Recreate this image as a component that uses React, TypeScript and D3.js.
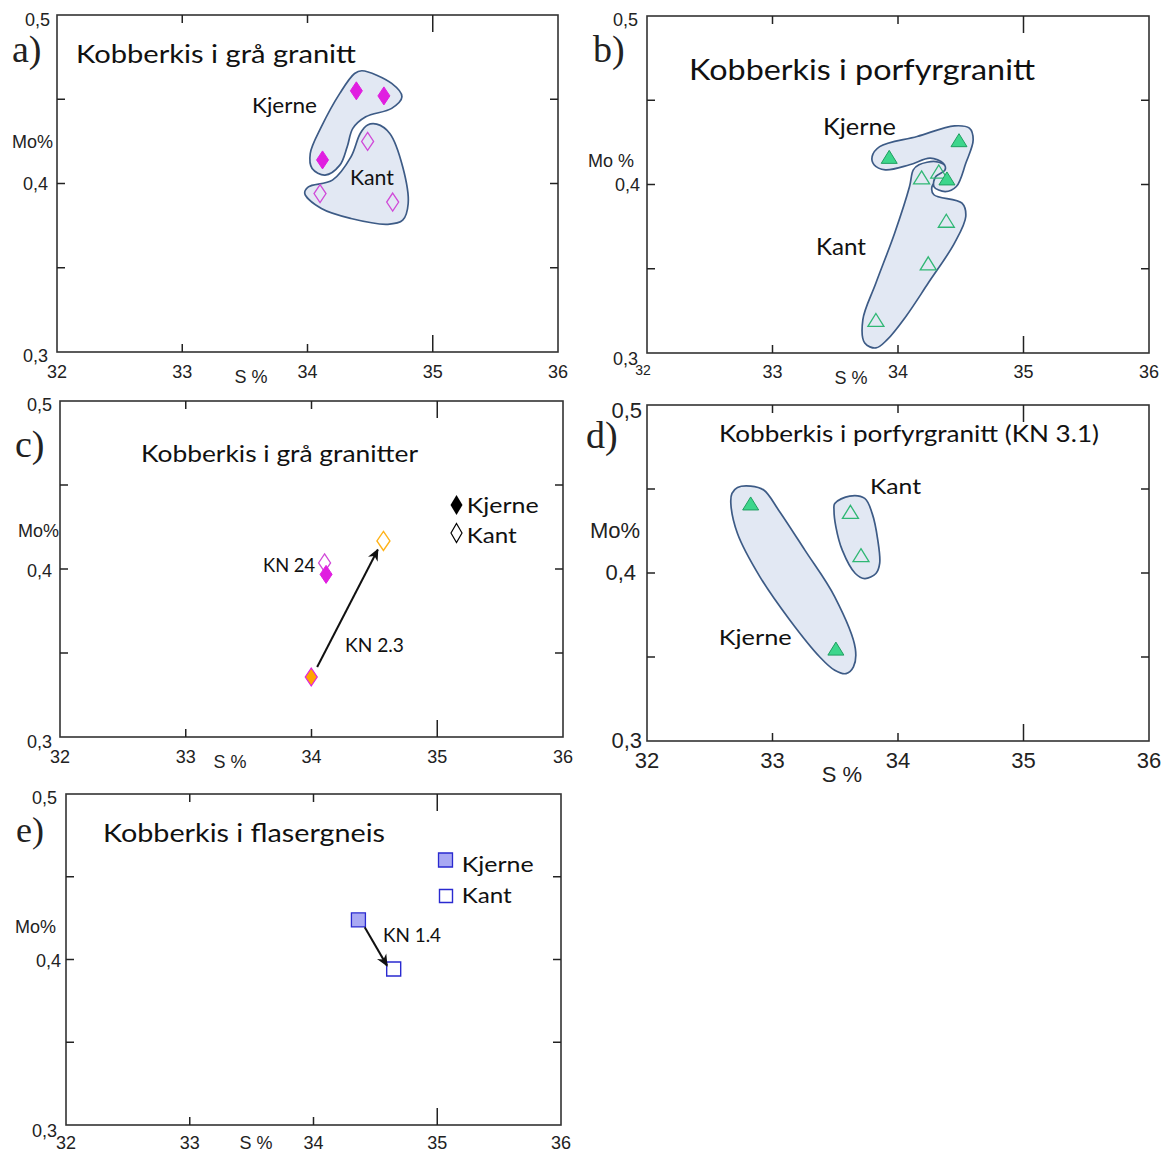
import React from 'react';
import * as d3 from 'd3';

type P = [number, number];

// ---------- shared axes ----------
const sDomain: P = [32, 36];
const moDomain: P = [0.3, 0.5];
const sTicks = [32, 33, 34, 35, 36];
const moTicks = [0.3, 0.4, 0.5];
const moTickLabels = ['0,3', '0,4', '0,5'];
const moMinorTicks = [0.35, 0.4, 0.45];
const innerSTicks = [33, 34, 35];

// ---------- panel a: grå granitt ----------
const aKjerne: P[] = [[34.39, 0.455], [34.61, 0.452], [34.12, 0.414]];
const aKant: P[] = [[34.48, 0.425], [34.10, 0.394], [34.68, 0.389]];
const aKjerneHull: P[] = [
  [34.435, 0.4669], [34.672, 0.4594], [34.754, 0.4515], [34.672, 0.4446], [34.465, 0.4396],
  [34.362, 0.4327], [34.317, 0.4218], [34.258, 0.4109], [34.14, 0.405], [34.037, 0.4089],
  [34.022, 0.4178], [34.111, 0.4337], [34.258, 0.4535], [34.376, 0.4653],
];
const aKantHull: P[] = [
  [34.553, 0.4352], [34.657, 0.4297], [34.76, 0.4099], [34.804, 0.3881], [34.76, 0.3782],
  [34.642, 0.3758], [34.347, 0.3792], [34.111, 0.3851], [33.978, 0.3941], [34.007, 0.398],
  [34.199, 0.402], [34.347, 0.4158], [34.421, 0.4297], [34.48, 0.4347],
];

// ---------- panel b: porfyrgranitt ----------
const bKjerne: P[] = [[33.93, 0.4164], [34.486, 0.4263], [34.39, 0.4036]];
const bKant: P[] = [[34.188, 0.4042], [34.325, 0.4077], [34.385, 0.3785], [34.241, 0.3532], [33.824, 0.3196]];
const bKjerneHull: P[] = [
  [33.794, 0.4166], [33.854, 0.4225], [34.152, 0.4285], [34.45, 0.4348], [34.569, 0.4334],
  [34.599, 0.4265], [34.54, 0.4126], [34.465, 0.3988], [34.376, 0.3958], [34.286, 0.3988],
  [34.301, 0.4047], [34.376, 0.4087], [34.361, 0.4126], [34.256, 0.4156], [34.092, 0.4117],
  [33.899, 0.4087], [33.809, 0.4117],
];
const bKantHull: P[] = [
  [34.167, 0.4117], [34.301, 0.4136], [34.384, 0.4107], [34.361, 0.4067], [34.271, 0.3988],
  [34.286, 0.3939], [34.51, 0.3889], [34.54, 0.381], [34.45, 0.3652], [34.241, 0.3415],
  [34.063, 0.3217], [33.914, 0.3079], [33.824, 0.303], [33.735, 0.3059], [33.72, 0.3198],
  [33.824, 0.3415], [33.973, 0.3711], [34.092, 0.3988], [34.122, 0.4087],
];

// ---------- panel c: grå granitter ----------
const cKn24Kant: P[] = [[34.104, 0.4036]];
const cKn24Kjerne: P[] = [[34.116, 0.3968]];
const cKn23Kjerne: P[] = [[33.998, 0.3357]];
const cKn23Kant: P[] = [[34.572, 0.4167]];
const cArrow: P[] = [[34.045, 0.3417], [34.527, 0.4115]];

// ---------- panel d: porfyrgranitt (KN 3.1) ----------
const dKjerne: P[] = [[32.826, 0.4414], [33.505, 0.355]];
const dKant: P[] = [[33.621, 0.4364], [33.705, 0.4106]];
const dKjerneHull: P[] = [
  [32.677, 0.4474], [32.721, 0.4509], [32.826, 0.4517], [32.93, 0.4494], [33.049, 0.4374],
  [33.258, 0.4136], [33.496, 0.3858], [33.66, 0.355], [33.645, 0.3441], [33.586, 0.3401],
  [33.496, 0.3421], [33.377, 0.35], [33.139, 0.3719], [32.9, 0.3977], [32.721, 0.4235],
  [32.668, 0.4414],
];
const dKantHull: P[] = [
  [33.496, 0.4414], [33.615, 0.4458], [33.735, 0.4444], [33.794, 0.4355], [33.839, 0.4196],
  [33.854, 0.4057], [33.824, 0.3997], [33.735, 0.3967], [33.66, 0.3997], [33.556, 0.4136],
  [33.505, 0.4275], [33.49, 0.4374],
];

// ---------- panel e: flasergneis ----------
const eKjerne: P[] = [[34.363, 0.4239]];
const eKant: P[] = [[34.648, 0.3943]];
const eArrow: P[] = [[34.414, 0.4195], [34.594, 0.3963]];

// ---------- styles ----------
const AX_FONT = 'Liberation Sans, Arial, sans-serif';
const TXT_FONT = 'Lato, "Open Sans", sans-serif';
const SERIF = 'Liberation Serif, "Times New Roman", serif';
const HULL_FILL = '#e2e8f3';
const HULL_STROKE = '#3d5b86';
const MAGENTA = '#e01ee0';
const MAGENTA_OPEN = '#d04ad8';
const GREEN_FILL = '#3dd68c';
const GREEN_STROKE = '#1f9e60';
const GREEN_OPEN = '#2fb774';
const ORANGE = '#ffa500';
const ORANGE_OPEN = '#ffb31a';
const BLUE_FILL = '#a9a9f3';
const BLUE_STROKE = '#2a2ad0';

const diamond = (cx: number, cy: number, w: number, h: number) =>
  `M${cx},${cy - h / 2}L${cx + w / 2},${cy}L${cx},${cy + h / 2}L${cx - w / 2},${cy}Z`;
const triangle = (cx: number, cy: number, w: number, h: number) =>
  `M${cx},${cy - h / 2}L${cx + w / 2},${cy + h / 2}L${cx - w / 2},${cy + h / 2}Z`;
const square = (cx: number, cy: number, s: number) =>
  `M${cx - s / 2},${cy - s / 2}h${s}v${s}h${-s}Z`;

type Frame = { L: number; R: number; T: number; B: number };
type Cfg = {
  key: string;
  frame: Frame;
  letter: { x: number; y: number; size: number };
  title: { text: string; x: number; y: number; w: number; size: number };
  axisSize: number;
  yLabX: number[]; // for 0.3, 0.4, 0.5 : right edge offset from L
  yLabDy: number[];
  xLabDy: number;
  sLabel: { x: number; y: number };
  moLabel: { text: string; x: number; y: number };
  smallFirst?: boolean;
};

const Panel: React.FC<{ cfg: Cfg; children: (x: d3.ScaleLinear<number, number>, y: d3.ScaleLinear<number, number>) => React.ReactNode }> = ({ cfg, children }) => {
  const { L, R, T, B } = cfg.frame;
  const x = d3.scaleLinear().domain(sDomain).range([L, R]);
  const y = d3.scaleLinear().domain(moDomain).range([B, T]);
  const fs = cfg.axisSize;
  return (
    <g>
      {children(x, y)}
      <rect x={L} y={T} width={R - L} height={B - T} fill="none" stroke="#333" strokeWidth={1.6} />
      {innerSTicks.map((s) => {
        const len = s === 35 ? 17 : 8;
        return (
          <g key={'st' + s}>
            <line x1={x(s)} x2={x(s)} y1={T} y2={T + len} stroke="#222" strokeWidth={1.5} />
            <line x1={x(s)} x2={x(s)} y1={B} y2={B - len} stroke="#222" strokeWidth={1.5} />
          </g>
        );
      })}
      {moMinorTicks.map((m) => (
        <g key={'mt' + m}>
          <line x1={L} x2={L + 8} y1={y(m)} y2={y(m)} stroke="#222" strokeWidth={1.5} />
          <line x1={R} x2={R - 8} y1={y(m)} y2={y(m)} stroke="#222" strokeWidth={1.5} />
        </g>
      ))}
      {moTicks.map((m, i) => (
        <text key={'ml' + m} x={L + cfg.yLabX[i]} y={y(m) + cfg.yLabDy[i]} textAnchor="end"
          fontFamily={AX_FONT} fontSize={fs} fill="#222">{moTickLabels[i]}</text>
      ))}
      {sTicks.map((s, i) =>
        cfg.smallFirst && i === 0 ? (
          <text key={'sl' + s} x={x(s) - 4} y={B + 22} textAnchor="middle" fontFamily={AX_FONT} fontSize={14} fill="#222">{s}</text>
        ) : (
          <text key={'sl' + s} x={x(s)} y={B + cfg.xLabDy} textAnchor="middle" fontFamily={AX_FONT} fontSize={fs} fill="#222">{s}</text>
        )
      )}
      <text x={cfg.sLabel.x} y={cfg.sLabel.y} textAnchor="middle" fontFamily={AX_FONT} fontSize={fs} fill="#222">S %</text>
      <text x={cfg.moLabel.x} y={cfg.moLabel.y} fontFamily={AX_FONT} fontSize={fs} fill="#222">{cfg.moLabel.text}</text>
      <text x={cfg.letter.x} y={cfg.letter.y} fontFamily={SERIF} fontSize={cfg.letter.size} fill="#222">{cfg.key + ')'}</text>
      <text x={cfg.title.x} y={cfg.title.y} fontFamily={TXT_FONT} fontSize={cfg.title.size} fill="#111"
        textLength={cfg.title.w} lengthAdjust="spacingAndGlyphs">{cfg.title.text}</text>
    </g>
  );
};

const hullLine = (x: d3.ScaleLinear<number, number>, y: d3.ScaleLinear<number, number>) =>
  d3.line<P>().x((d) => x(d[0])).y((d) => y(d[1])).curve(d3.curveCatmullRomClosed.alpha(0.5));

const Hull: React.FC<{ pts: P[]; x: any; y: any }> = ({ pts, x, y }) => (
  <path d={hullLine(x, y)(pts) || ''} fill={HULL_FILL} stroke={HULL_STROKE} strokeWidth={1.7} />
);

const Label: React.FC<{ x: number; y: number; text: string; size: number; w?: number; anchor?: string }> = ({ x, y, text, size, w, anchor }) => (
  <text x={x} y={y} fontFamily={TXT_FONT} fontSize={size} fill="#111" textAnchor={anchor || 'start'}
    {...(w ? { textLength: w, lengthAdjust: 'spacingAndGlyphs' } : {})}>{text}</text>
);

const cfgs: Record<string, Cfg> = {
  a: {
    key: 'a', frame: { L: 57, R: 558, T: 15, B: 352 }, letter: { x: 12, y: 62, size: 38 },
    title: { text: 'Kobberkis i grå granitt', x: 76, y: 63, w: 280, size: 25 },
    axisSize: 18, yLabX: [-9, -9, -7], yLabDy: [10, 6, 11], xLabDy: 26,
    sLabel: { x: 251, y: 383 }, moLabel: { text: 'Mo%', x: 12, y: 148 },
  },
  b: {
    key: 'b', frame: { L: 647, R: 1149, T: 16, B: 353 }, letter: { x: 593, y: 62, size: 38 },
    title: { text: 'Kobberkis i porfyrgranitt', x: 689, y: 80, w: 346, size: 28 },
    axisSize: 18, yLabX: [-9, -7, -9], yLabDy: [12, 6.5, 10], xLabDy: 25,
    sLabel: { x: 851, y: 384 }, moLabel: { text: 'Mo %', x: 588, y: 167 }, smallFirst: true,
  },
  c: {
    key: 'c', frame: { L: 60, R: 563, T: 401, B: 737 }, letter: { x: 15, y: 457, size: 38 },
    title: { text: 'Kobberkis i grå granitter', x: 141, y: 462, w: 277, size: 23.5 },
    axisSize: 18, yLabX: [-8, -8, -8], yLabDy: [11, 8, 10], xLabDy: 26,
    sLabel: { x: 230, y: 768 }, moLabel: { text: 'Mo%', x: 18, y: 537 },
  },
  d: {
    key: 'd', frame: { L: 647, R: 1149, T: 405, B: 741 }, letter: { x: 586, y: 448, size: 38 },
    title: { text: 'Kobberkis i porfyrgranitt (KN 3.1)', x: 719, y: 442, w: 380, size: 23.5 },
    axisSize: 22, yLabX: [-5, -11, -5], yLabDy: [7, 7, 13], xLabDy: 27,
    sLabel: { x: 842, y: 782 }, moLabel: { text: 'Mo%', x: 590, y: 538 },
  },
  e: {
    key: 'e', frame: { L: 66, R: 561, T: 794, B: 1125 }, letter: { x: 16, y: 842, size: 36 },
    title: { text: 'Kobberkis i flasergneis', x: 103, y: 842, w: 282, size: 25 },
    axisSize: 18, yLabX: [-9, -5, -9], yLabDy: [12, 7.5, 10], xLabDy: 24,
    sLabel: { x: 256, y: 1149 }, moLabel: { text: 'Mo%', x: 15, y: 933 },
  },
};

export default function App() {
  return (
    <svg width={1167} height={1154} style={{ position: 'absolute', left: 0, top: 0, background: '#fff' }}>
      <defs>
        <marker id="arrow" viewBox="0 0 10 10" refX="9" refY="5" markerWidth="6" markerHeight="6" orient="auto" markerUnits="strokeWidth">
          <path d="M0,0.5L10,5L0,9.5L3,5Z" fill="#111" />
        </marker>
      </defs>
      <rect width={1167} height={1154} fill="#fff" />

      {/* a */}
      <Panel cfg={cfgs.a}>
        {(x, y) => (
          <g>
            <Hull pts={aKantHull} x={x} y={y} />
            <Hull pts={aKjerneHull} x={x} y={y} />
            {aKjerne.map((d, i) => <path key={'ak' + i} d={diamond(x(d[0]), y(d[1]), 12, 18)} fill={MAGENTA} stroke={MAGENTA} strokeWidth={1} />)}
            {aKant.map((d, i) => <path key={'an' + i} d={diamond(x(d[0]), y(d[1]), 12, 18)} fill="none" stroke={MAGENTA_OPEN} strokeWidth={1.3} />)}
            <Label x={x(33.557)} y={y(0.4418)} text="Kjerne" size={21} w={65} />
            <Label x={x(34.339)} y={y(0.3991)} text="Kant" size={21} w={44} />
          </g>
        )}
      </Panel>

      {/* b */}
      <Panel cfg={cfgs.b}>
        {(x, y) => (
          <g>
            <Hull pts={bKantHull} x={x} y={y} />
            <Hull pts={bKjerneHull} x={x} y={y} />
            {bKant.map((d, i) => <path key={'bn' + i} d={triangle(x(d[0]), y(d[1]), 16, 13)} fill="none" stroke={GREEN_OPEN} strokeWidth={1.3} />)}
            {bKjerne.map((d, i) => <path key={'bk' + i} d={triangle(x(d[0]), y(d[1]), 16, 13)} fill={GREEN_FILL} stroke={GREEN_STROKE} strokeWidth={1} />)}
            <Label x={x(33.402)} y={y(0.4294)} text="Kjerne" size={23} w={73} />
            <Label x={x(33.347)} y={y(0.3582)} text="Kant" size={23} w={50} />
          </g>
        )}
      </Panel>

      {/* c */}
      <Panel cfg={cfgs.c}>
        {(x, y) => (
          <g>
            {cKn24Kant.map((d, i) => <path key={'c1' + i} d={diamond(x(d[0]), y(d[1]), 12, 18)} fill="#fff" stroke={MAGENTA_OPEN} strokeWidth={1.3} />)}
            {cKn24Kjerne.map((d, i) => <path key={'c2' + i} d={diamond(x(d[0]), y(d[1]), 12, 18)} fill={MAGENTA} stroke={MAGENTA} strokeWidth={1} />)}
            {cKn23Kjerne.map((d, i) => <path key={'c3' + i} d={diamond(x(d[0]), y(d[1]), 12, 18)} fill={ORANGE} stroke={MAGENTA} strokeWidth={1.2} />)}
            {cKn23Kant.map((d, i) => <path key={'c4' + i} d={diamond(x(d[0]), y(d[1]), 13, 19)} fill="#fff" stroke={ORANGE_OPEN} strokeWidth={1.4} />)}
            <line x1={x(cArrow[0][0])} y1={y(cArrow[0][1])} x2={x(cArrow[1][0])} y2={y(cArrow[1][1])} stroke="#111" strokeWidth={2} markerEnd="url(#arrow)" />
            <Label x={x(34.028)} y={y(0.3982)} text="KN 24" size={19} w={52} anchor="end" />
            <Label x={x(34.266)} y={y(0.3506)} text="KN 2.3" size={19} w={59} />
            <path d={diamond(456.5, 505, 12, 20)} fill="#000" />
            <path d={diamond(456.5, 533, 11, 19)} fill="#fff" stroke="#000" strokeWidth={1.2} />
            <Label x={466.7} y={513} text="Kjerne" size={22} w={72} />
            <Label x={466.7} y={543} text="Kant" size={22} w={50} />
          </g>
        )}
      </Panel>

      {/* d */}
      <Panel cfg={cfgs.d}>
        {(x, y) => (
          <g>
            <Hull pts={dKjerneHull} x={x} y={y} />
            <Hull pts={dKantHull} x={x} y={y} />
            {dKjerne.map((d, i) => <path key={'dk' + i} d={triangle(x(d[0]), y(d[1]), 16, 13)} fill={GREEN_FILL} stroke={GREEN_STROKE} strokeWidth={1} />)}
            {dKant.map((d, i) => <path key={'dn' + i} d={triangle(x(d[0]), y(d[1]), 16, 13)} fill="none" stroke={GREEN_OPEN} strokeWidth={1.3} />)}
            <Label x={x(33.777)} y={y(0.447)} text="Kant" size={22} w={51} />
            <Label x={x(32.571)} y={y(0.3571)} text="Kjerne" size={22} w={73} />
          </g>
        )}
      </Panel>

      {/* e */}
      <Panel cfg={cfgs.e}>
        {(x, y) => (
          <g>
            {eKjerne.map((d, i) => <path key={'ek' + i} d={square(x(d[0]), y(d[1]), 14)} fill={BLUE_FILL} stroke={BLUE_STROKE} strokeWidth={1.3} />)}
            {eKant.map((d, i) => <path key={'en' + i} d={square(x(d[0]), y(d[1]), 14)} fill="#fff" stroke={BLUE_STROKE} strokeWidth={1.4} />)}
            <line x1={x(eArrow[0][0])} y1={y(eArrow[0][1])} x2={x(eArrow[1][0])} y2={y(eArrow[1][1])} stroke="#111" strokeWidth={2} markerEnd="url(#arrow)" />
            <Label x={x(34.562)} y={y(0.4106)} text="KN 1.4" size={19} w={58} />
            <path d={square(445.5, 860, 14)} fill={BLUE_FILL} stroke={BLUE_STROKE} strokeWidth={1.3} />
            <path d={square(446, 896, 13)} fill="#fff" stroke={BLUE_STROKE} strokeWidth={1.4} />
            <Label x={461.7} y={872} text="Kjerne" size={22} w={72} />
            <Label x={461.7} y={903} text="Kant" size={22} w={50} />
          </g>
        )}
      </Panel>
    </svg>
  );
}
